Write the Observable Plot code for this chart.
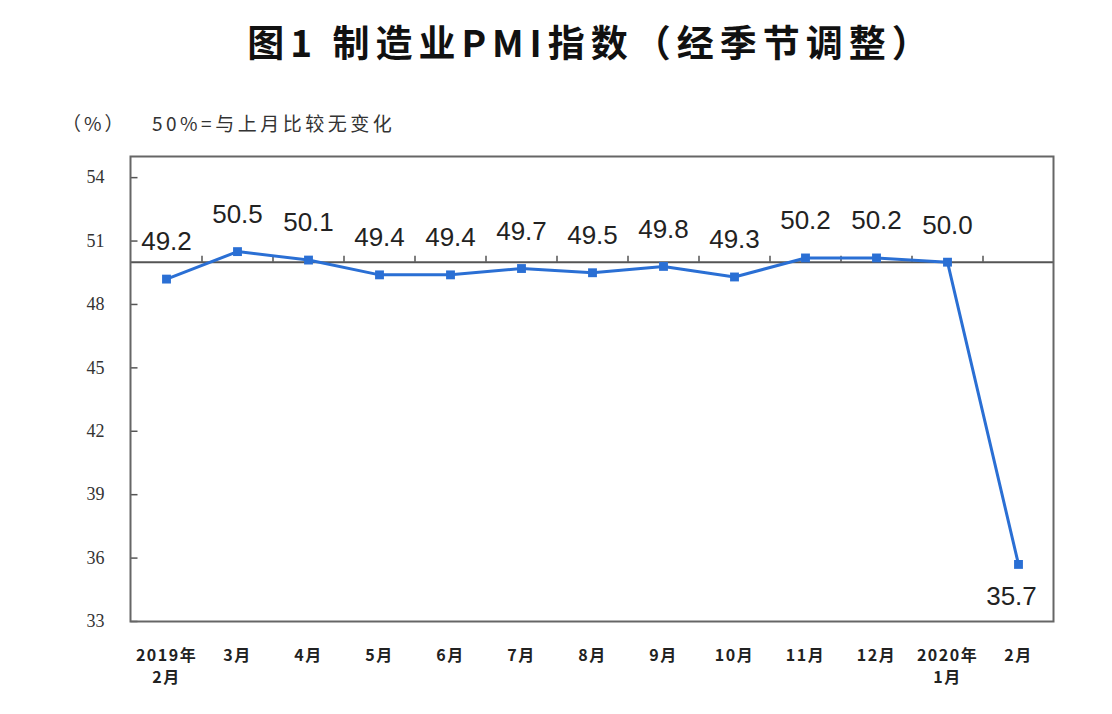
<!DOCTYPE html>
<html><head><meta charset="utf-8">
<script src="https://cdn.jsdelivr.net/npm/d3@7"></script>
<script src="https://cdn.jsdelivr.net/npm/@observablehq/plot@0.6"></script>
<style>
body{margin:0;background:#fff;width:1112px;height:714px;overflow:hidden;font-family:"Noto Sans CJK SC",sans-serif}
#head{position:relative;height:140px}
#title{position:absolute;left:35px;width:1112px;top:14px;text-align:center;font-size:37px;font-weight:bold;letter-spacing:6px;color:#111;white-space:nowrap}
#unit{position:absolute;left:62px;top:109px;font-size:19px;color:#333;letter-spacing:3px}
#note{position:absolute;left:152px;top:109px;font-size:19px;color:#333;letter-spacing:3.5px;white-space:nowrap}
g[aria-label="x-axis tick label"] text{letter-spacing:1.5px}
</style></head><body>
<div id="head"><div id="title">图1 制造业PMI指数（经季节调整）</div><div id="unit">（%）</div><div id="note">50%=与上月比较无变化</div></div>
<div id="chart"></div>
<script>
const months = ["2019年\n2月","3月","4月","5月","6月","7月","8月","9月","10月","11月","12月","2020年\n1月","2月"];
const pmi = [49.2,50.5,50.1,49.4,49.4,49.7,49.5,49.8,49.3,50.2,50.2,50.0,35.7];
const yTicks = [33,36,39,42,45,48,51,54];
const yDomain = [33,55];
const threshold = 50;

const data = months.map((m,i)=>({month:m, value:pmi[i]}));
const last = data.length-1;
const blue = "#2a6fd4";
const W = 1112, mL = 130, mR = 59;
const step = (W - mL - mR) / months.length;
const labelFont = "'Liberation Sans', Arial, sans-serif";

const chart = Plot.plot({
  width: W, height: 574, marginTop: 16, marginBottom: 93, marginLeft: mL, marginRight: mR,
  style: {fontFamily: "'Noto Sans CJK SC', sans-serif", background: "#fff", overflow: "visible"},
  x: {type: "point", domain: months, padding: 0.5, label: null},
  y: {domain: yDomain, label: null},
  marks: [
    Plot.axisY(yTicks, {tickSize: 0, tickPadding: 26, fontFamily: "'Liberation Serif', serif", fontSize: 18, fill: "#333"}),
    Plot.ruleY(yTicks, {y: d => d, x1: () => months[0], x2: () => months[0], insetRight: -7, dx: -step / 2, stroke: "#555", strokeWidth: 1.5}),
    Plot.axisX(months, {tickSize: 0, tickPadding: 24, fontSize: 16, fontWeight: "bold", lineHeight: 1.375, fill: "#222"}),
    Plot.ruleY([threshold], {stroke: "#555", strokeWidth: 2}),
    Plot.ruleX(months.slice(0, -1), {x: d => d, y1: () => threshold, y2: () => threshold, insetTop: -6, dx: step / 2, stroke: "#555", strokeWidth: 1.5}),
    Plot.frame({stroke: "#666", strokeWidth: 2}),
    Plot.line(data, {x: "month", y: "value", stroke: blue, strokeWidth: 3}),
    Plot.dot(data, {x: "month", y: "value", symbol: "square", r: 5, fill: blue}),
    Plot.text(data.slice(0, last), {x: "month", y: "value", text: d => d.value.toFixed(1), dy: -37, fontSize: 26, fontFamily: labelFont, fill: "#222"}),
    Plot.text(data.slice(last), {x: "month", y: "value", text: d => d.value.toFixed(1), dy: 32, dx: -7, fontSize: 26, fontFamily: labelFont, fill: "#222"})
  ]
});
document.getElementById("chart").appendChild(chart);
</script>
</body></html>
